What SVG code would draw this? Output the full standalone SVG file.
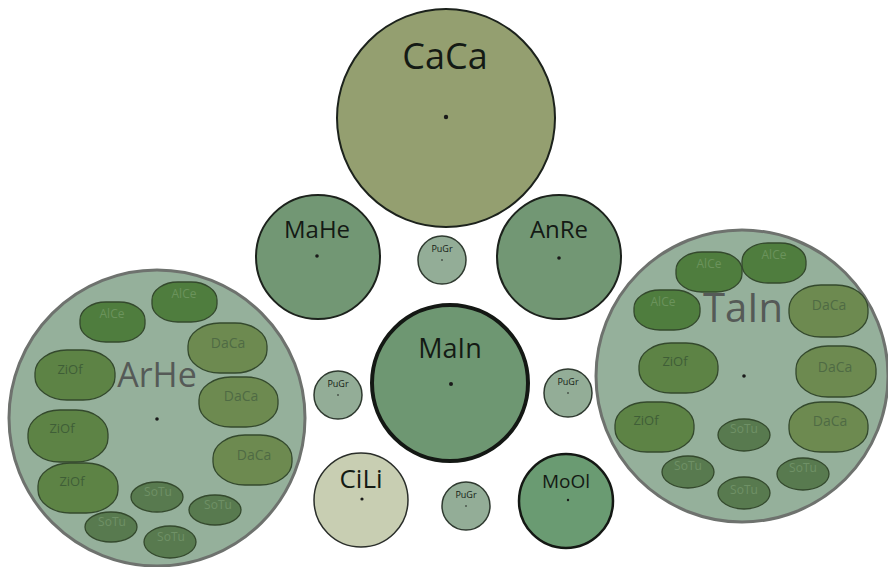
<svg xmlns="http://www.w3.org/2000/svg" width="888" height="567" viewBox="0 0 888 567">
<style>
text{font-family:"Open Sans","Noto Sans","Liberation Sans",sans-serif;text-anchor:middle}
.big{fill:#95b09b;stroke:#6e726e;stroke-width:3}
.node{stroke:#1c221c;stroke-width:2}
.dot{fill:#1a1a1a}
.pugr{fill:#93ad97;stroke:#2f3a30;stroke-width:1.5}
.blob{stroke:#34492d;stroke-width:1.3}
.alce{fill:#4f7d3e}
.daca{fill:#6d8a50}
.ziof{fill:#5d8345}
.sotu{fill:#587a4f}
.ta{fill:#6b935c;font-size:12px}
.td{fill:#4f6a44;font-size:14px}
.tz{fill:#3f5e37;font-size:13px}
.ts{fill:#6f9166;font-size:12px}
.lbl{fill:#141a14}
.glbl{fill:#555a57}
</style>
<g id="connectors"></g>
<g id="CaCa">
<circle cx="446" cy="118" r="109" class="node" fill="#949f70"/>
<text x="445" y="69" class="lbl" font-size="36">CaCa</text>
<circle cx="446" cy="117" r="2.2" class="dot"/>
</g>
<g id="MaHe">
<circle cx="318" cy="257" r="62" class="node" fill="#729774"/>
<text x="317" y="238" class="lbl" font-size="24">MaHe</text>
<circle cx="317" cy="256" r="1.8" class="dot"/>
</g>
<g id="AnRe">
<circle cx="559" cy="257" r="62" class="node" fill="#729774"/>
<text x="559" y="238" class="lbl" font-size="24">AnRe</text>
<circle cx="559" cy="258" r="1.8" class="dot"/>
</g>
<g id="PuGr1">
<circle cx="442" cy="260" r="24" class="pugr"/>
<text x="442" y="252" class="lbl" font-size="9" fill="#1e2a20">PuGr</text>
<circle cx="442" cy="260" r="0.8" class="dot"/>
</g>
<g id="MaIn">
<circle cx="450" cy="383" r="78" stroke="#141814" stroke-width="4" fill="#6e9772"/>
<text x="450" y="358" class="lbl" font-size="27">MaIn</text>
<circle cx="451" cy="384" r="2" class="dot"/>
</g>
<g id="PuGr2">
<circle cx="338" cy="395" r="24" class="pugr"/>
<text x="338" y="387" class="lbl" font-size="9">PuGr</text>
<circle cx="338" cy="395" r="0.8" class="dot"/>
</g>
<g id="PuGr3">
<circle cx="568" cy="393" r="24" class="pugr"/>
<text x="568" y="385" class="lbl" font-size="9">PuGr</text>
<circle cx="568" cy="393" r="0.8" class="dot"/>
</g>
<g id="PuGr4">
<circle cx="466" cy="506" r="24" class="pugr"/>
<text x="466" y="498" class="lbl" font-size="9">PuGr</text>
<circle cx="466" cy="506" r="0.8" class="dot"/>
</g>
<g id="CiLi">
<circle cx="361" cy="500" r="47" stroke="#2a2e2a" stroke-width="1.5" fill="#c8ceb2"/>
<text x="361" y="488" class="lbl" font-size="26">CiLi</text>
<circle cx="362" cy="499" r="1.6" class="dot"/>
</g>
<g id="MoOl">
<circle cx="566" cy="501" r="47" stroke="#141814" stroke-width="2.5" fill="#6a9b72"/>
<text x="566" y="488" class="lbl" font-size="19">MoOl</text>
<circle cx="568" cy="500" r="1.2" class="dot"/>
</g>
<g id="ArHe">
<circle cx="157" cy="418" r="148" class="big"/>
<text x="157" y="387" class="glbl" font-size="34">ArHe</text>
<circle cx="157" cy="419" r="1.8" class="dot" fill="#333"/>
<g id="ArHe-AlCe1"><rect x="80" y="302" width="65" height="40" rx="26" ry="18" class="blob alce"/><text x="112" y="318" class="ta">AlCe</text></g>
<g id="ArHe-AlCe2"><rect x="152" y="282" width="65" height="40" rx="26" ry="18" class="blob alce"/><text x="184" y="298" class="ta">AlCe</text></g>
<g id="ArHe-DaCa1"><rect x="188" y="323" width="79" height="50" rx="32" ry="23" class="blob daca"/><text x="228" y="348" class="td">DaCa</text></g>
<g id="ArHe-ZiOf1"><rect x="35" y="350" width="80" height="50" rx="32" ry="23" class="blob ziof"/><text x="70" y="374" class="tz">ZiOf</text></g>
<g id="ArHe-DaCa2"><rect x="199" y="377" width="79" height="50" rx="32" ry="23" class="blob daca"/><text x="241" y="401" class="td">DaCa</text></g>
<g id="ArHe-ZiOf2"><rect x="28" y="410" width="80" height="52" rx="32" ry="24" class="blob ziof"/><text x="62" y="433" class="tz">ZiOf</text></g>
<g id="ArHe-DaCa3"><rect x="213" y="435" width="79" height="50" rx="32" ry="23" class="blob daca"/><text x="254" y="460" class="td">DaCa</text></g>
<g id="ArHe-ZiOf3"><rect x="38" y="463" width="80" height="50" rx="32" ry="23" class="blob ziof"/><text x="72" y="486" class="tz">ZiOf</text></g>
<g id="ArHe-SoTu1"><ellipse cx="157" cy="497" rx="26" ry="15" class="blob sotu"/><text x="158" y="496" class="ts">SoTu</text></g>
<g id="ArHe-SoTu2"><ellipse cx="215" cy="510" rx="26" ry="15" class="blob sotu"/><text x="218" y="509" class="ts">SoTu</text></g>
<g id="ArHe-SoTu3"><ellipse cx="111" cy="527" rx="26" ry="15" class="blob sotu"/><text x="112" y="526" class="ts">SoTu</text></g>
<g id="ArHe-SoTu4"><ellipse cx="170" cy="542" rx="26" ry="16" class="blob sotu"/><text x="171" y="541" class="ts">SoTu</text></g>
</g>
<g id="TaIn">
<circle cx="742" cy="376" r="146" class="big"/>
<text x="743" y="322" class="glbl" font-size="40">TaIn</text>
<circle cx="744" cy="376" r="1.8" class="dot" fill="#333"/>
<g id="TaIn-AlCe1"><rect x="676" y="252" width="66" height="40" rx="26" ry="18" class="blob alce"/><text x="709" y="268" class="ta">AlCe</text></g>
<g id="TaIn-AlCe2"><rect x="742" y="243" width="64" height="40" rx="26" ry="18" class="blob alce"/><text x="774" y="259" class="ta">AlCe</text></g>
<g id="TaIn-AlCe3"><rect x="634" y="290" width="66" height="40" rx="26" ry="18" class="blob alce"/><text x="663" y="306" class="ta">AlCe</text></g>
<g id="TaIn-DaCa1"><rect x="789" y="285" width="79" height="52" rx="32" ry="24" class="blob daca"/><text x="829" y="310" class="td">DaCa</text></g>
<g id="TaIn-ZiOf1"><rect x="639" y="343" width="79" height="50" rx="32" ry="23" class="blob ziof"/><text x="675" y="366" class="tz">ZiOf</text></g>
<g id="TaIn-DaCa2"><rect x="796" y="346" width="80" height="51" rx="32" ry="23" class="blob daca"/><text x="835" y="372" class="td">DaCa</text></g>
<g id="TaIn-ZiOf2"><rect x="615" y="402" width="79" height="50" rx="32" ry="23" class="blob ziof"/><text x="646" y="425" class="tz">ZiOf</text></g>
<g id="TaIn-DaCa3"><rect x="789" y="402" width="79" height="50" rx="32" ry="23" class="blob daca"/><text x="830" y="426" class="td">DaCa</text></g>
<g id="TaIn-SoTu1"><ellipse cx="744" cy="435" rx="26" ry="16" class="blob sotu"/><text x="744" y="433" class="ts">SoTu</text></g>
<g id="TaIn-SoTu2"><ellipse cx="688" cy="472" rx="26" ry="16" class="blob sotu"/><text x="688" y="470" class="ts">SoTu</text></g>
<g id="TaIn-SoTu3"><ellipse cx="803" cy="474" rx="26" ry="16" class="blob sotu"/><text x="803" y="472" class="ts">SoTu</text></g>
<g id="TaIn-SoTu4"><ellipse cx="744" cy="493" rx="26" ry="16" class="blob sotu"/><text x="744" y="494" class="ts">SoTu</text></g>
</g>
</svg>
